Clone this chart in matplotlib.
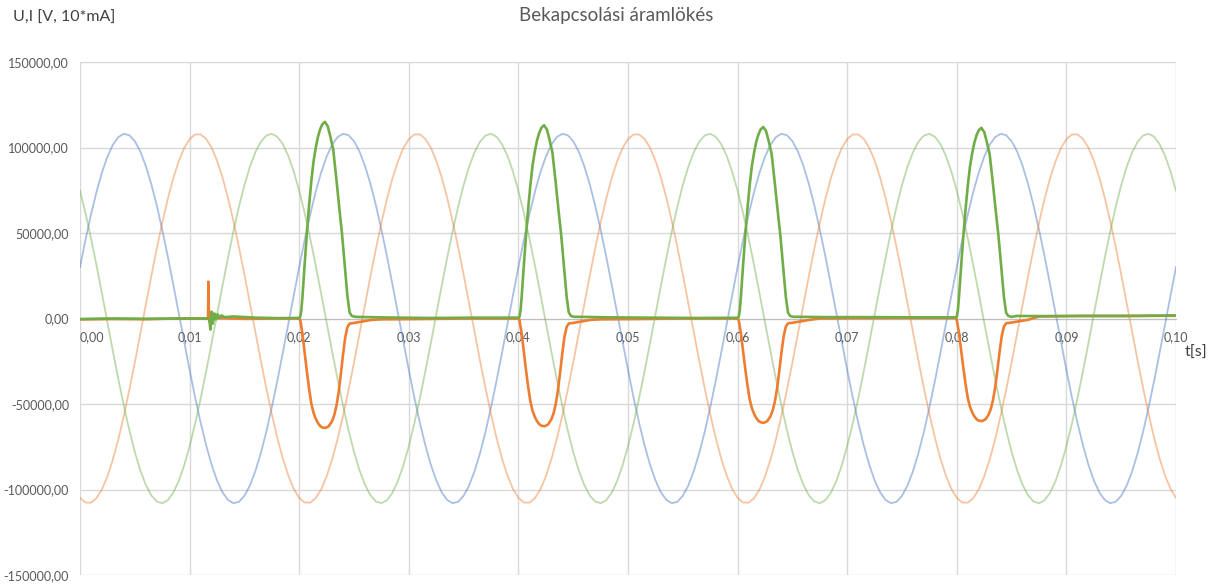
import numpy as np
import matplotlib
matplotlib.use("Agg")
import matplotlib.pyplot as plt
from matplotlib.ticker import FuncFormatter

# ---------------- data ----------------
# voltages sampled every 0.5 ms, t = 0 ... 0.1 s
T_VOLT_STEP = 0.0005
U_BLUE = [
    30100, 46000, 60700, 73900, 85300, 94600, 101600, 106100, 108000, 107200, 103700, 97700, 89300, 78700, 66200, 52000, 36600, 20200, 3400, -13500,
    -30100, -46000, -60700, -73900, -85300, -94600, -101600, -106100, -108000, -107200, -103700, -97700, -89300, -78700, -66200, -52000, -36600, -20200, -3400, 13500,
    30100, 46000, 60700, 73900, 85300, 94600, 101600, 106100, 108000, 107200, 103700, 97700, 89300, 78700, 66200, 52000, 36600, 20200, 3400, -13500,
    -30100, -46000, -60700, -73900, -85300, -94600, -101600, -106100, -108000, -107200, -103700, -97700, -89300, -78700, -66200, -52000, -36600, -20200, -3400, 13500,
    30100, 46000, 60700, 73900, 85300, 94600, 101600, 106100, 108000, 107200, 103700, 97700, 89300, 78700, 66200, 52000, 36600, 20200, 3400, -13500,
    -30100, -46000, -60700, -73900, -85300, -94600, -101600, -106100, -108000, -107200, -103700, -97700, -89300, -78700, -66200, -52000, -36600, -20200, -3400, 13500,
    30100, 46000, 60700, 73900, 85300, 94600, 101600, 106100, 108000, 107200, 103700, 97700, 89300, 78700, 66200, 52000, 36600, 20200, 3400, -13500,
    -30100, -46000, -60700, -73900, -85300, -94600, -101600, -106100, -108000, -107200, -103700, -97700, -89300, -78700, -66200, -52000, -36600, -20200, -3400, 13500,
    30100, 46000, 60700, 73900, 85300, 94600, 101600, 106100, 108000, 107200, 103700, 97700, 89300, 78700, 66200, 52000, 36600, 20200, 3400, -13500,
    -30100, -46000, -60700, -73900, -85300, -94600, -101600, -106100, -108000, -107200, -103700, -97700, -89300, -78700, -66200, -52000, -36600, -20200, -3400, 13500,
    30100,
]
U_ORANGE = [
    -104900, -107600, -107700, -105100, -100000, -92400, -82500, -70600, -56900, -41800, -25800, -9000, 7900, 24700, 40800, 55900, 69700, 81800, 91800, 99600,
    104900, 107600, 107700, 105100, 100000, 92400, 82500, 70600, 56900, 41800, 25800, 9000, -7900, -24700, -40800, -55900, -69700, -81800, -91800, -99600,
    -104900, -107600, -107700, -105100, -100000, -92400, -82500, -70600, -56900, -41800, -25800, -9000, 7900, 24700, 40800, 55900, 69700, 81800, 91800, 99600,
    104900, 107600, 107700, 105100, 100000, 92400, 82500, 70600, 56900, 41800, 25800, 9000, -7900, -24700, -40800, -55900, -69700, -81800, -91800, -99600,
    -104900, -107600, -107700, -105100, -100000, -92400, -82500, -70600, -56900, -41800, -25800, -9000, 7900, 24700, 40800, 55900, 69700, 81800, 91800, 99600,
    104900, 107600, 107700, 105100, 100000, 92400, 82500, 70600, 56900, 41800, 25800, 9000, -7900, -24700, -40800, -55900, -69700, -81800, -91800, -99600,
    -104900, -107600, -107700, -105100, -100000, -92400, -82500, -70600, -56900, -41800, -25800, -9000, 7900, 24700, 40800, 55900, 69700, 81800, 91800, 99600,
    104900, 107600, 107700, 105100, 100000, 92400, 82500, 70600, 56900, 41800, 25800, 9000, -7900, -24700, -40800, -55900, -69700, -81800, -91800, -99600,
    -104900, -107600, -107700, -105100, -100000, -92400, -82500, -70600, -56900, -41800, -25800, -9000, 7900, 24700, 40800, 55900, 69700, 81800, 91800, 99600,
    104900, 107600, 107700, 105100, 100000, 92400, 82500, 70600, 56900, 41800, 25800, 9000, -7900, -24700, -40800, -55900, -69700, -81800, -91800, -99600,
    -104900,
]
U_GREEN = [
    74700, 61600, 47000, 31200, 14700, -2300, -19100, -35500, -51000, -65300, -78000, -88700, -97200, -103400, -107000, -108000, -106300, -102000, -95200, -86000,
    -74700, -61600, -47000, -31200, -14700, 2300, 19100, 35500, 51000, 65300, 78000, 88700, 97200, 103400, 107000, 108000, 106300, 102000, 95200, 86000,
    74700, 61600, 47000, 31200, 14700, -2300, -19100, -35500, -51000, -65300, -78000, -88700, -97200, -103400, -107000, -108000, -106300, -102000, -95200, -86000,
    -74700, -61600, -47000, -31200, -14700, 2300, 19100, 35500, 51000, 65300, 78000, 88700, 97200, 103400, 107000, 108000, 106300, 102000, 95200, 86000,
    74700, 61600, 47000, 31200, 14700, -2300, -19100, -35500, -51000, -65300, -78000, -88700, -97200, -103400, -107000, -108000, -106300, -102000, -95200, -86000,
    -74700, -61600, -47000, -31200, -14700, 2300, 19100, 35500, 51000, 65300, 78000, 88700, 97200, 103400, 107000, 108000, 106300, 102000, 95200, 86000,
    74700, 61600, 47000, 31200, 14700, -2300, -19100, -35500, -51000, -65300, -78000, -88700, -97200, -103400, -107000, -108000, -106300, -102000, -95200, -86000,
    -74700, -61600, -47000, -31200, -14700, 2300, 19100, 35500, 51000, 65300, 78000, 88700, 97200, 103400, 107000, 108000, 106300, 102000, 95200, 86000,
    74700, 61600, 47000, 31200, 14700, -2300, -19100, -35500, -51000, -65300, -78000, -88700, -97200, -103400, -107000, -108000, -106300, -102000, -95200, -86000,
    -74700, -61600, -47000, -31200, -14700, 2300, 19100, 35500, 51000, 65300, 78000, 88700, 97200, 103400, 107000, 108000, 106300, 102000, 95200, 86000,
    74700,
]

# inrush current pulses (start time, peak values)
PULSE_START = [0.0201, 0.0401, 0.0601, 0.0800]
GREEN_PEAK = [115000, 113000, 112000, 111500]
ORANGE_MIN = [-64000, -63000, -61000, -60000]

# pulse shape relative to pulse start (first pulse)
GREEN_SHAPE_DT = [0.0, 0.0001, 0.0002, 0.0003, 0.0004, 0.0005, 0.0006, 0.0008, 0.0010, 0.0012,
                  0.0014, 0.0016, 0.0018, 0.0020, 0.00224, 0.0025, 0.0027, 0.0030, 0.0033, 0.0036,
                  0.0038, 0.0041, 0.0043, 0.0045, 0.0047, 0.0050]
GREEN_SHAPE_V = [1000, 5000, 13000, 23000, 32000, 41000, 50000, 66000, 80000, 91500,
                 99500, 106000, 110500, 113500, 115000, 112500, 107500, 99000, 81000, 62000,
                 50000, 28000, 13000, 3500, 1500, 1000]
ORANGE_SHAPE_DT = [0.0, 0.0002, 0.0004, 0.0006, 0.0008, 0.0010, 0.0012, 0.0014, 0.0016, 0.0018,
                   0.0020, 0.0023, 0.0026, 0.0029, 0.0031, 0.0033, 0.0035, 0.0037, 0.0039, 0.0041,
                   0.0043, 0.0045, 0.0050, 0.0056, 0.0065]
ORANGE_SHAPE_V = [-1000, -9000, -20000, -31000, -41000, -49500, -55000, -58500, -61000, -62800,
                  -63700, -64000, -63000, -60000, -56500, -51000, -43000, -32500, -21000, -11000,
                  -5000, -3000, -2500, -1800, -800]

# current baseline outside the pulses (incl. switching transient near 0.0118 s)
GREEN_BASE_T = [0.0, 0.003, 0.006, 0.009, 0.0117, 0.0118, 0.0119, 0.0120, 0.01212, 0.01225,
                0.0124, 0.01255, 0.0127, 0.0129, 0.0132, 0.014, 0.016, 0.018, 0.0200,
                0.0255, 0.028, 0.032, 0.036, 0.0400,
                0.0455, 0.048, 0.052, 0.056, 0.0600,
                0.0655, 0.068, 0.072, 0.076, 0.0799,
                0.0855, 0.088, 0.092, 0.096, 0.1]
GREEN_BASE_V = [-300, 0, -200, 0, 0, -1000, -6500, 4000, -3000, 3000,
                -500, 2500, 500, 1800, 800, 1200, 500, 200, 300,
                900, 600, 300, 500, 500,
                1000, 700, 500, 300, 400,
                1000, 800, 800, 700, 700,
                1500, 1400, 1500, 1500, 1800]
ORANGE_BASE_T = [0.0, 0.003, 0.006, 0.009, 0.01168, 0.01172, 0.01176, 0.0118, 0.0119, 0.0125,
                 0.015, 0.018, 0.0200,
                 0.0275, 0.031, 0.035, 0.0400,
                 0.0475, 0.051, 0.055, 0.0600,
                 0.0675, 0.071, 0.075, 0.0799,
                 0.0875, 0.091, 0.095, 0.1]
ORANGE_BASE_V = [-500, -300, -400, 0, 0, 21500, 1000, -1500, 0, 300,
                 -200, 0, 0,
                 -500, -300, 0, 0,
                 -500, -300, 0, 0,
                 0, 200, 300, 300,
                 1200, 1500, 1500, 1600]

Y_TICKS = [-150000, -100000, -50000, 0, 50000, 100000, 150000]
X_TICKS = [0.00, 0.01, 0.02, 0.03, 0.04, 0.05, 0.06, 0.07, 0.08, 0.09, 0.10]

TITLE = "Bekapcsolási áramlökés"
Y_LABEL = "U,I [V, 10*mA]"
X_LABEL = "t[s]"

# ---------------- build current series ----------------
def build(base_t, base_v, dt, shape, starts, scales):
    ts = list(base_t)
    vs = list(base_v)
    for s, sc in zip(starts, scales):
        ts += [s + d for d in dt]
        vs += [v * sc for v in shape]
    ts = np.array(ts)
    vs = np.array(vs, dtype=float)
    order = np.argsort(ts, kind="stable")
    return ts[order], vs[order]

g_scale = [p / max(GREEN_SHAPE_V) for p in GREEN_PEAK]
o_scale = [m / min(ORANGE_SHAPE_V) for m in ORANGE_MIN]
I_G_T, I_G_V = build(GREEN_BASE_T, GREEN_BASE_V, GREEN_SHAPE_DT, GREEN_SHAPE_V, PULSE_START, g_scale)
I_O_T, I_O_V = build(ORANGE_BASE_T, ORANGE_BASE_V, ORANGE_SHAPE_DT, ORANGE_SHAPE_V, PULSE_START, o_scale)
T_VOLT = np.arange(len(U_BLUE)) * T_VOLT_STEP

# ---------------- plot ----------------
plt.rcParams["font.family"] = ["Lato", "DejaVu Sans"]
fig = plt.figure(figsize=(12.1, 5.84), dpi=100)
ax = fig.add_axes([80 / 1210, 1 - 575 / 584, 1096 / 1210, 513 / 584])

BLUE = "#4472C4"
ORANGE = "#ED7D31"
GREEN = "#70AD47"

ax.plot(T_VOLT, U_BLUE, color=BLUE, alpha=0.45, lw=1.3)
ax.plot(T_VOLT, U_ORANGE, color=ORANGE, alpha=0.45, lw=1.3)
ax.plot(T_VOLT, U_GREEN, color=GREEN, alpha=0.45, lw=1.3)
ax.plot(I_O_T, I_O_V, color=ORANGE, lw=1.9)
ax.plot(I_G_T, I_G_V, color=GREEN, lw=1.9)

ax.set_xlim(0, 0.1)
ax.set_ylim(-150000, 150000)
ax.set_xticks(X_TICKS)
ax.set_yticks(Y_TICKS)
ax.grid(True, color="#D9D9D9", lw=1.0)
ax.set_axisbelow(True)
for s in ["top", "right", "left"]:
    ax.spines[s].set_visible(False)
ax.spines["bottom"].set_position(("data", 0))
ax.spines["bottom"].set_color("#BFBFBF")
ax.spines["bottom"].set_zorder(1)

ax.xaxis.set_major_formatter(FuncFormatter(lambda v, p: f"{v:.2f}".replace(".", ",")))
ax.yaxis.set_major_formatter(FuncFormatter(lambda v, p: f"{v:.2f}".replace(".", ",")))
ax.tick_params(axis="both", length=0, labelsize=9, labelcolor="#595959")
ax.tick_params(axis="x", pad=9)
ax.tick_params(axis="y", pad=8)

fig.canvas.draw()
ax.get_xticklabels()[0].set_horizontalalignment("left")

fig.text(616 / 1210, 1 - 15 / 584, TITLE, ha="center", va="center", fontsize=13.5, color="#595959")
fig.text(13 / 1210, 1 - 18 / 584, Y_LABEL, ha="left", va="center", fontsize=11.5, color="#404040")
fig.text(1185 / 1210, 1 - 353 / 584, X_LABEL, ha="left", va="center", fontsize=11.5, color="#404040")

fig.savefig("out.png", dpi=100)
